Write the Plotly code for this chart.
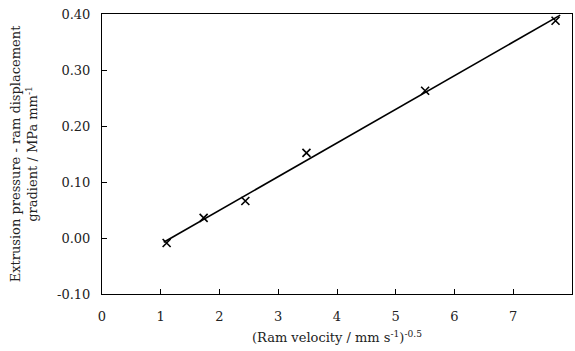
import numpy as np
import plotly.graph_objects as go

# Data
ram_velocity = [1.10, 1.73, 2.44, 3.48, 5.50, 7.72]
gradient = [-0.009, 0.036, 0.066, 0.152, 0.263, 0.388]
fit_x_range = [1.05, 7.80]

x_ticks = [0, 1, 2, 3, 4, 5, 6, 7, 8]
y_ticks = [-0.10, 0.00, 0.10, 0.20, 0.30, 0.40]

slope, intercept = np.polyfit(ram_velocity, gradient, 1)
fit_x = np.array(fit_x_range)
fit_y = slope * fit_x + intercept

font_family = "DejaVu Serif, Liberation Serif, serif"

fig = go.Figure()
fig.add_trace(go.Scatter(x=fit_x, y=fit_y, mode="lines",
                         line=dict(color="black", width=1.6), showlegend=False))
fig.add_trace(go.Scatter(x=ram_velocity, y=gradient, mode="markers",
                         marker=dict(symbol="x-thin", size=8, line=dict(color="black", width=1.6)),
                         showlegend=False))

fig.update_layout(
    width=575, height=351,
    margin=dict(l=102, r=3, t=14, b=57),
    paper_bgcolor="white", plot_bgcolor="white",
    font=dict(family=font_family, size=13, color="#222"),
)
fig.update_xaxes(
    range=[0, 8], tickvals=x_ticks, ticktext=[str(v) for v in x_ticks],
    ticks="inside", ticklen=5, tickcolor="black", tickwidth=1,
    showline=True, linecolor="black", linewidth=1, mirror=True,
    showgrid=False, zeroline=False, ticklabelstandoff=10,
    title=dict(text="(Ram velocity / mm s<sup>-1</sup>)<sup>-0.5</sup>", standoff=10,
               font=dict(size=13)),
)
fig.update_yaxes(
    range=[-0.10, 0.40], tickvals=y_ticks, ticktext=[f"{v:.2f}" for v in y_ticks],
    ticks="inside", ticklen=5, tickcolor="black", tickwidth=1,
    showline=True, linecolor="black", linewidth=1, mirror=True,
    showgrid=False, zeroline=False, ticklabelstandoff=8,
    title=dict(text="Extrusion pressure - ram displacement<br>gradient / MPa mm<sup>-1</sup>",
               standoff=16, font=dict(size=13)),
)

fig.write_html("out.html")
